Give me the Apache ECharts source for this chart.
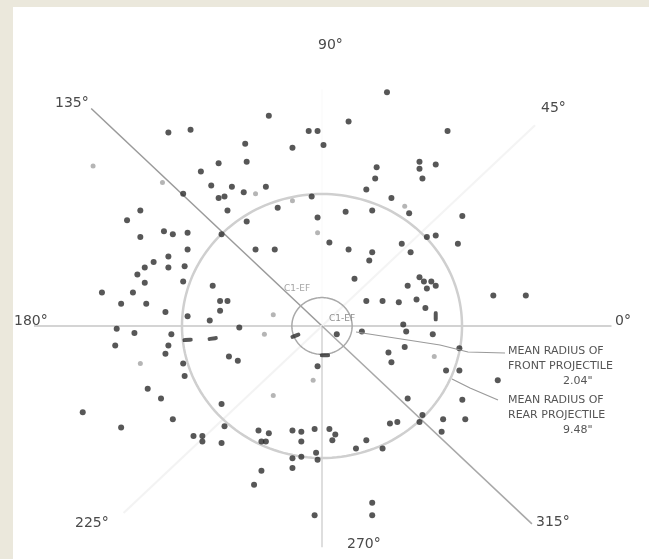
<!DOCTYPE html>
<html>
<head>
<meta charset="utf-8">
<script src="https://cdn.jsdelivr.net/npm/echarts@6/dist/echarts.min.js"></script>
<style>
  html, body { margin: 0; padding: 0; background: #ffffff; }
  #chart { width: 649px; height: 559px; }
</style>
</head>
<body>
<div id="chart"></div>
<script>
// Impact points on the target, in inches from the aiming point (x right, y up).
const hits = [
  [-10.4, 13.9], [-8.9, 14.1], [-3.6, 15.1], [-5.2, 13.1], [-0.9, 14.0], [-0.3, 14.0],
  [-2.0, 12.8], [0.1, 13.0], [-7.0, 11.7], [-5.1, 11.8], [-8.2, 11.1], [-9.4, 9.5],
  [-7.5, 10.1], [-6.1, 10.0], [-5.3, 9.6], [-3.8, 10.0], [-7.0, 9.2], [-6.6, 9.3],
  [-6.4, 8.3], [-3.0, 8.5], [-0.7, 9.3], [-5.1, 7.5], [-0.3, 7.8], [0.5, 6.0],
  [-12.3, 8.3], [-13.2, 7.6], [-12.3, 6.4], [-10.7, 6.8], [-10.1, 6.6], [-9.1, 6.7],
  [-6.8, 6.6], [-4.5, 5.5], [-3.2, 5.5], [-9.1, 5.5], [-10.4, 5.0], [-11.4, 4.6],
  [-12.0, 4.2], [-10.4, 4.2], [-9.3, 4.3], [-12.5, 3.7], [-12.0, 3.1], [-9.4, 3.2],
  [-7.4, 2.9], [-14.9, 2.4], [-12.8, 2.4], [-6.9, 1.8], [-6.4, 1.8], [-13.6, 1.6],
  [-11.9, 1.6], [-6.9, 1.1], [-10.6, 1.0], [-9.1, 0.7], [-7.6, 0.4], [-13.9, -0.2],
  [-5.6, -0.1],
  [8.5, 14.0], [4.4, 16.8], [1.8, 14.7], [6.6, 11.8], [6.6, 11.3], [7.7, 11.6],
  [3.7, 11.4], [3.6, 10.6], [6.8, 10.6], [3.0, 9.8], [4.7, 9.2], [5.9, 8.1],
  [1.6, 8.2], [3.4, 8.3], [9.5, 7.9], [1.8, 5.5], [3.4, 5.3], [3.2, 4.7],
  [5.4, 5.9], [6.0, 5.3], [7.1, 6.4], [7.7, 6.5], [9.2, 5.9], [2.2, 3.4],
  [6.6, 3.5], [6.9, 3.2], [7.4, 3.2], [7.7, 2.9], [7.1, 2.7], [5.8, 2.9],
  [11.6, 2.2], [13.8, 2.2], [3.0, 1.8], [4.1, 1.8], [5.2, 1.7], [6.4, 1.9],
  [7.0, 1.3], [5.5, 0.1], [5.7, -0.4], [7.5, -0.6], [5.6, -1.5], [4.5, -1.9],
  [4.7, -2.6], [9.3, -1.6], [8.4, -3.2], [9.3, -3.2], [11.9, -3.9], [9.5, -5.3],
  [8.2, -6.7], [9.7, -6.7], [8.1, -7.6], [6.8, -6.4], [6.6, -6.9], [4.6, -7.0],
  [5.1, -6.9], [5.8, -5.2],
  [1.0, -0.6], [2.7, -0.4], [-0.3, -2.9],
  [-12.7, -0.5], [-10.2, -0.6], [-14.0, -1.4], [-10.4, -1.4], [-10.6, -2.0],
  [-6.3, -2.2], [-5.7, -2.5], [-9.4, -2.7], [-9.3, -3.6], [-11.8, -4.5], [-10.9, -5.2],
  [-6.8, -5.6], [-16.2, -6.2], [-13.6, -7.3], [-10.1, -6.7], [-6.6, -7.2], [-8.7, -7.9],
  [-8.1, -7.9], [-8.1, -8.3], [-6.8, -8.4], [-4.3, -7.5], [-3.6, -7.7], [-4.1, -8.3],
  [-3.8, -8.3], [-2.0, -7.5], [-1.4, -7.6], [-0.5, -7.4], [0.5, -7.4], [0.9, -7.8],
  [0.7, -8.2], [-1.4, -8.3], [-2.0, -9.5], [-1.4, -9.4], [-0.4, -9.1], [-0.3, -9.6],
  [-2.0, -10.2], [-4.1, -10.4], [-4.6, -11.4], [-0.5, -13.6],
  [2.3, -8.8], [3.0, -8.2], [4.1, -8.8], [3.4, -12.7], [3.4, -13.6]
];

// Faintly marked impacts.
const faintHits = [
  [-15.5, 11.5], [-10.8, 10.3], [-4.5, 9.5], [-2.0, 9.0], [-0.3, 6.7], [-3.3, 0.8],
  [5.6, 8.6], [7.6, -2.2], [-0.6, -3.9], [-3.9, -0.6], [-12.3, -2.7], [-3.3, -5.0]
];

// Elongated (oblique) impacts.
const streakHits = [
  [7.7, 0.7], [0.2, -2.1], [-1.8, -0.7], [-9.1, -1.0], [-7.4, -0.9]
];
const streakTilt = [90, 0, 22, 4, 8];

// Mean radii of the two groups, inches.
const meanRadius = [2.04, 9.48];
const meanRadiusNames = ['FRONT PROJECTILE', 'REAR PROJECTILE'];

// Bearing lines: direction in degrees and reach in inches.
const spokeAngles = [0, 45, 90, 135, 180, 225, 270, 315];
const spokeReach = [19.6, 20.4, 17.0, 22.1, 19.5, 19.0, 15.9, 20.1];
const spokeLabels = ['0°', '45°', '90°', '135°', '180°', '225°', '270°', '315°'];

const spokeStyle = [
  { color: '#d2d2d2', width: 2 },
  { color: '#f4f4f4', width: 2 },
  { color: '#fbfbfb', width: 1.5 },
  { color: '#9a9a9a', width: 1.5 },
  { color: '#d4d4d4', width: 2 },
  { color: '#f3f3f3', width: 2 },
  { color: '#dedede', width: 2 },
  { color: '#a8a8a8', width: 1.5 }
];
const ringStyle = [
  { color: '#a9a9a9', width: 1.5 },
  { color: '#cfcfcf', width: 2.5 }
];

// Label placement for the bearing marks (pixels).
const spokeLabelPos = [
  [615, 314], [541, 101], [318, 38], [55, 96], [14, 314], [75, 516], [347, 537], [536, 515]
];

const DEG = Math.PI / 180;
const SX = 14.77, SY = 13.92;   // pixels per inch
const CX = 322, CY = 326;       // aiming point on the page
const X_MIN = -21, X_MAX = 22, Y_MIN = -16, Y_MAX = 19;

const chart = echarts.init(document.getElementById('chart'), null, { renderer: 'canvas' });

const ink = '#2d2d2d';
const textFont = '"DejaVu Sans", sans-serif';

const graphics = [
  { type: 'rect', left: 0, top: 0, shape: { width: 13, height: 559 }, style: { fill: '#ebe8dc' }, z: 100 },
  { type: 'rect', left: 0, top: 0, shape: { width: 649, height: 7 }, style: { fill: '#ebe8dc' }, z: 100 }
];

spokeLabels.forEach((t, i) => {
  graphics.push({
    type: 'text', left: spokeLabelPos[i][0], top: spokeLabelPos[i][1], z: 50,
    style: { text: t, fill: '#4a4a4a', font: '14px ' + textFont }
  });
});

// Mean-radius notes with leader lines
const noteLines = [
  ['MEAN RADIUS OF', meanRadiusNames[0], meanRadius[0].toFixed(2) + '"'],
  ['MEAN RADIUS OF', meanRadiusNames[1], meanRadius[1].toFixed(2) + '"']
];
const noteTop = [346, 395];
noteLines.forEach((lines, k) => {
  lines.forEach((s, j) => {
    graphics.push({
      type: 'text', z: 50,
      left: j === 2 ? 563 : 508,
      top: noteTop[k] + j * 15,
      style: { text: s, fill: '#555555', font: '11px ' + textFont }
    });
  });
});
graphics.push({
  type: 'polyline', z: 40,
  shape: { points: [[356, 332], [440, 345], [468, 352], [505, 353]] },
  style: { stroke: '#9a9a9a', lineWidth: 1.2, fill: null }
});
graphics.push({
  type: 'polyline', z: 40,
  shape: { points: [[452, 379], [470, 388], [498, 400]] },
  style: { stroke: '#9a9a9a', lineWidth: 1.2, fill: null }
});

// Group tags near the centre
graphics.push({ type: 'text', left: 284, top: 284, z: 50, style: { text: 'C1-EF', fill: '#a5a5a5', font: '9px ' + textFont } });
graphics.push({ type: 'text', left: 329, top: 314, z: 50, style: { text: 'C1-EF', fill: '#8f8f8f', font: '9px ' + textFont } });

chart.setOption({
  backgroundColor: '#ffffff',
  animation: false,
  grid: {
    left: CX + X_MIN * SX,
    top: CY - Y_MAX * SY,
    width: (X_MAX - X_MIN) * SX,
    height: (Y_MAX - Y_MIN) * SY,
    containLabel: false
  },
  xAxis: { type: 'value', min: X_MIN, max: X_MAX, show: false },
  yAxis: { type: 'value', min: Y_MIN, max: Y_MAX, show: false },
  graphic: graphics,
  series: [
    {
      name: 'bearings',
      type: 'custom',
      clip: false,
      z: 1,
      data: spokeAngles.map((a, i) => [a, spokeReach[i], i]),
      renderItem: function (params, api) {
        const a = api.value(0) * DEG;
        const r = api.value(1);
        const st = spokeStyle[api.value(2)];
        const p0 = api.coord([0, 0]);
        const p1 = api.coord([r * Math.cos(a), r * Math.sin(a)]);
        return {
          type: 'line',
          shape: { x1: p0[0], y1: p0[1], x2: p1[0], y2: p1[1] },
          style: { stroke: st.color, lineWidth: st.width }
        };
      }
    },
    {
      name: 'mean radius',
      type: 'custom',
      clip: false,
      z: 2,
      data: meanRadius.map((r, i) => [r, i]),
      renderItem: function (params, api) {
        const r = api.value(0);
        const st = ringStyle[api.value(1)];
        const pts = [];
        for (let t = 0; t <= 360; t += 2) {
          pts.push(api.coord([r * Math.cos(t * DEG), r * Math.sin(t * DEG)]));
        }
        return {
          type: 'polyline',
          shape: { points: pts },
          style: { stroke: st.color, lineWidth: st.width, fill: null }
        };
      }
    },
    {
      name: 'faint',
      type: 'scatter',
      z: 3,
      symbol: 'circle',
      symbolSize: 5,
      itemStyle: { color: '#a3a3a3' },
      data: faintHits
    },
    {
      name: 'hits',
      type: 'scatter',
      z: 4,
      symbol: 'circle',
      symbolSize: 6,
      itemStyle: { color: ink },
      data: hits
    },
    {
      name: 'streaks',
      type: 'scatter',
      z: 4,
      symbol: 'roundRect',
      symbolSize: [10, 4],
      itemStyle: { color: ink },
      data: streakHits.map((p, i) => ({ value: p, symbolRotate: streakTilt[i] }))
    }
  ]
});
</script>
</body>
</html>
